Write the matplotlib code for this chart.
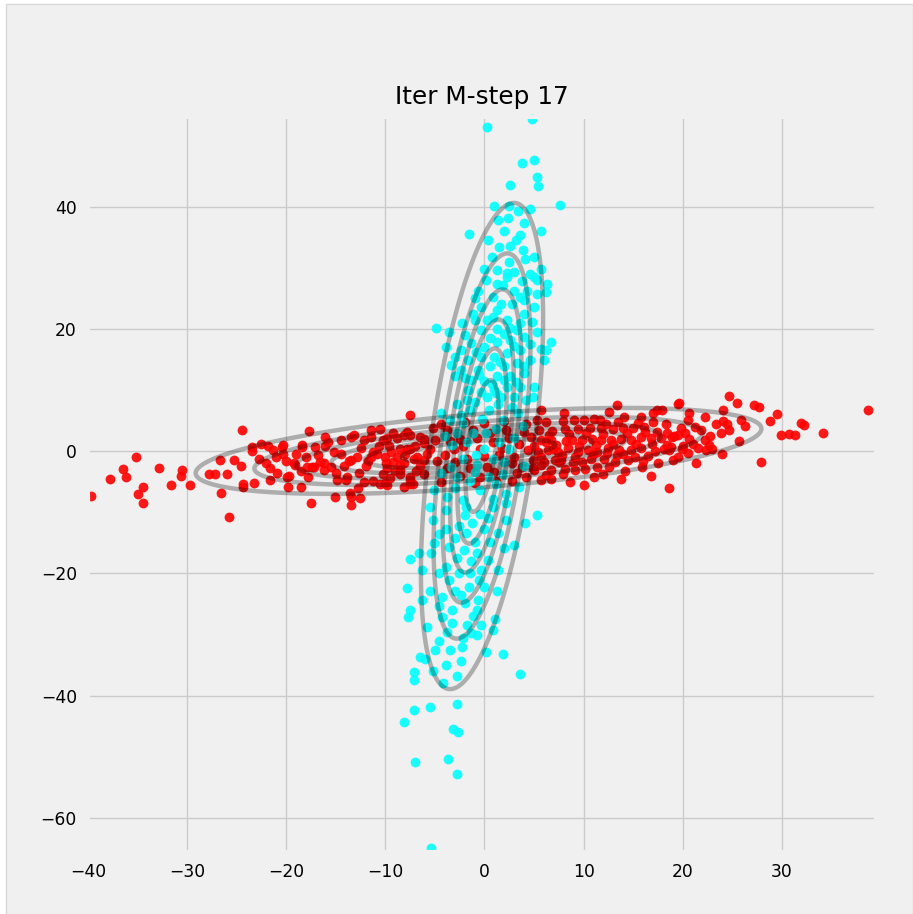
import numpy as np
import matplotlib
matplotlib.use("Agg")
import matplotlib.pyplot as plt
from matplotlib.patches import Rectangle

# cluster assignments after the 17th M-step
red_points = [
    (-39.7, -7.4), (-37.8, -4.5), (-36.5, -2.9), (-36.2, -4.3), (-35.2, -1.0), (-34.5, -5.9),
    (-35.0, -7.0), (-34.5, -8.5), (-32.8, -2.7), (-31.6, -5.6), (-30.5, -3.1), (-30.6, -4.0),
    (-29.7, -5.6), (-27.8, -3.8), (-27.2, -3.8), (-26.0, -3.8), (-26.6, -6.9), (-25.8, -10.8),
    (-26.7, -1.5), (-24.5, 3.4), (-25.3, -1.4), (-24.6, -2.5), (-24.4, -5.3), (-24.4, -5.9),
    (-23.3, -5.2), (-23.5, 0.7), (-23.5, 0.1), (-22.5, 1.1), (-21.8, 0.8), (-21.3, 0.2),
    (-22.8, -1.3), (-21.6, -2.7), (-21.6, -4.7), (-20.4, 0.7), (-19.9, -4.2), (-19.8, -5.8),
    (-20.0, -1.6), (-18.4, 0.7), (-17.7, 3.3), (-18.5, -5.8), (-17.5, -8.5), (-17.1, 0.7),
    (-16.1, 2.3), (-17.4, -2.6), (-17.8, -4.2), (-18.5, -3.2), (-19.2, -2.0), (-16.2, -2.0),
    (-15.2, -0.1), (-15.1, -7.5), (-13.5, -7.5), (-13.5, -8.8), (-12.6, -7.6), (-12.7, -3.6),
    (-14.0, -4.7), (-13.7, -1.6), (-14.5, 1.8), (-13.2, 2.6), (-12.2, 1.8), (-11.5, 2.4),
    (-11.2, -0.2), (-11.2, -4.8), (-7.5, 6.0), (-13.6, -6.8), (-20.3, 1.0), (-20.3, -0.4),
    (-18.4, 1.0), (-16.1, 0.8), (-13.5, 2.3), (-14.5, -0.4), (-13.5, -1.5), (-12.9, -1.0),
    (-11.5, 3.4), (-10.5, 3.7), (-10.2, 1.8), (-8.8, 2.1), (-7.8, 3.2), (-7.5, 2.6),
    (-6.5, 2.3), (-11.5, -0.9), (-10.8, -0.4), (-9.9, -1.9), (-8.8, -0.9), (-8.1, -1.9),
    (-7.5, 0.3), (-6.8, -0.9), (-6.1, 1.3), (-17.2, -2.6), (-16.6, -1.8), (-16.2, -3.1),
    (-15.5, -2.6), (-17.9, -2.6), (-19.1, -2.3), (-19.7, -4.0), (-20.9, -3.5), (-14.9, -4.7),
    (-13.9, -4.2), (-12.2, -5.0), (-10.2, -3.7), (-9.5, -4.4), (-8.5, -3.1), (-7.5, -4.7),
    (-8.1, -5.8), (-10.0, -5.2), (-7.2, -5.4), (-6.1, -3.8), (-9.8, 2.1), (-9.2, 2.9),
    (-8.1, 2.7), (-8.5, 0.4), (-9.4, -0.2), (-7.8, 0.4), (-7.1, -1.2), (-8.5, -2.2),
    (-9.2, -1.7), (-9.8, -2.8), (-8.5, -3.8), (-7.5, -4.3), (-6.9, -3.2), (-6.1, -1.5),
    (-5.5, 0.4), (-6.1, 2.0), (-4.4, 4.5), (-3.8, 3.4), (-3.1, 0.4), (-2.5, 2.0),
    (-1.8, -1.3), (-1.2, 3.4), (-0.5, 0.4), (0.3, -2.6), (0.9, 1.5), (1.5, -0.6),
    (2.2, 3.4), (2.8, -2.0), (3.5, 1.1), (4.2, 4.5), (5.3, 5.1), (5.7, 6.7),
    (6.2, 1.5), (6.9, 0.4), (7.9, 4.9), (8.2, 1.6), (7.5, -1.7), (4.9, -2.8),
    (6.2, -3.9), (4.2, -4.3), (-2.5, -4.0), (-3.8, -2.8), (-4.4, -5.0), (-0.5, -4.3),
    (1.2, -4.8), (2.8, -4.8), (-10.5, -5.3), (-9.8, -5.6), (-7.5, -5.3), (8.0, 6.2),
    (13.4, 7.5), (12.6, 6.4), (19.5, 7.8), (17.4, 6.7), (17.9, 6.7), (15.8, 5.6),
    (14.1, 5.6), (11.7, 5.1), (11.0, 5.3), (10.0, 5.1), (9.0, 5.1), (6.2, 4.7),
    (16.1, 4.0), (15.0, 3.8), (14.0, 3.8), (13.0, 3.6), (11.8, 3.8), (10.6, 3.8),
    (9.4, 3.6), (8.1, 3.6), (6.8, 3.3), (17.4, 3.2), (18.4, 3.0), (19.1, 2.5),
    (18.8, 0.7), (18.1, 0.4), (16.8, 2.1), (15.8, 2.3), (14.8, 1.8), (13.8, 2.0),
    (12.8, 1.8), (11.8, 1.8), (10.8, 2.0), (9.8, 1.8), (8.8, 1.8), (6.7, 1.8),
    (5.7, 1.8), (4.7, 2.3), (15.8, 0.5), (14.8, 0.2), (13.6, 0.2), (12.5, 0.5),
    (11.4, -0.1), (10.4, 0.2), (9.4, -0.1), (8.4, 0.5), (7.4, -0.1), (6.4, 0.2),
    (5.4, -0.1), (4.4, 0.2), (13.4, -0.7), (12.1, -1.2), (10.7, -1.2), (9.1, -0.9),
    (7.7, -1.4), (7.1, -1.4), (5.7, -0.9), (4.9, -1.4), (12.6, -2.6), (11.4, -2.6),
    (9.8, -1.8), (10.1, -2.9), (9.1, -3.1), (8.1, -2.9), (6.7, -3.1), (5.7, -2.3),
    (5.0, -3.1), (6.7, -4.5), (5.7, -4.7), (7.9, -3.7), (15.9, -2.6), (10.0, -5.6),
    (18.6, -6.1), (24.7, 9.0), (25.5, 7.9), (27.2, 7.5), (27.7, 7.3), (29.5, 6.1),
    (28.8, 5.0), (31.9, 4.6), (32.2, 4.3), (38.7, 6.7), (29.9, 2.6), (30.7, 2.8),
    (31.3, 2.6), (34.2, 3.0), (27.9, -1.7), (25.7, 1.7), (24.7, 3.4), (24.1, 6.7),
    (24.1, 5.0), (24.5, 4.5), (25.9, 5.1), (26.3, 4.2), (23.9, 2.9), (24.0, -0.5),
    (21.3, -1.9), (23.0, 0.4), (22.3, 0.2), (22.6, 1.0), (22.2, 1.8), (21.8, 3.4),
    (22.2, 5.6), (19.6, 7.9), (20.6, 6.2), (20.5, 5.1), (21.2, 4.0), (19.8, 3.8),
    (19.5, 2.6), (18.9, 2.3), (20.6, 2.0), (21.0, 1.2), (18.6, 0.2), (19.9, 0.4),
    (18.4, 1.0), (17.0, 6.2), (14.5, -1.5), (16.5, -0.8), (17.5, -1.9), (15.2, -1.0),
    (19.5, -0.9), (20.5, -0.3), (16.9, 1.2), (14.2, -3.3), (12.0, -3.8), (17.0, 4.8),
    (15.5, 4.6), (13.5, 4.7), (12.3, 4.4), (20.0, 0.9),
    (-22.0, -2.0), (-21.0, -1.0), (-19.0, -0.5), (-18.0, -1.0), (-16.8, -0.7), (-15.8, 1.5),
    (-15.0, -3.5), (-14.2, -2.4), (-12.5, 0.5), (-12.0, -2.5), (-11.8, -1.6), (-10.6, 0.8),
    (-10.0, -1.0), (-9.6, 0.9), (-9.0, -3.2), (-8.0, -0.5), (-7.0, 0.8), (-6.5, -2.4),
    (-5.8, -0.4), (-5.0, 1.8), (-4.8, -1.6), (-4.0, -0.6), (-3.5, 1.6), (-3.0, -1.8),
    (-2.2, 0.8), (-1.5, -2.8), (-0.8, 2.2), (0.0, -0.8), (0.6, 3.0), (1.0, -3.4),
    (1.8, 0.6), (2.5, 2.2), (3.0, -1.0), (3.8, -2.6), (4.0, 3.2), (5.0, 0.9),
    (5.5, 3.5), (6.0, -1.8), (6.5, 2.6), (7.2, 1.0), (7.8, -0.6), (8.5, 2.8),
    (8.9, -2.0), (9.5, 0.9), (10.2, 2.9), (10.9, -0.5), (11.2, 1.0), (12.0, 2.8),
    (12.4, -0.3), (13.0, 1.1), (13.2, -1.8), (14.4, 2.9), (14.0, -0.4), (15.3, 1.2),
    (16.2, 3.2), (16.0, -1.6), (17.2, 0.1), (17.8, 2.2), (18.3, 4.5), (19.0, -1.5),
    (20.2, 3.0), (21.5, 0.5), (22.8, 2.5), (23.4, 4.4), (2.0, 5.0), (0.0, 4.6),
    (-2.0, 4.8), (-5.2, 3.8), (3.3, -3.6), (-1.0, -5.2), (11.0, -4.2), (13.8, -4.5),
    (8.6, -5.0), (-12.8, -6.0), (16.8, -4.0),
]

cyan_points = [
    (0.3, 53.1), (4.8, 54.3), (3.8, 47.2), (5.0, 47.7), (5.3, 44.9), (5.4, 43.4),
    (2.6, 43.5), (1.0, 40.1), (2.5, 40.1), (4.6, 39.7), (7.6, 40.3), (3.4, 39.3),
    (2.4, 38.2), (4.0, 37.3), (-1.6, 35.6), (5.7, 36.1), (1.4, 37.8), (3.6, 35.4),
    (3.2, 34.6), (1.5, 33.4), (2.6, 33.6), (3.9, 33.0), (5.0, 31.8), (0.4, 34.5),
    (4.1, 31.5), (5.7, 29.9), (6.3, 27.4), (6.2, 26.1), (5.3, 28.0), (4.6, 29.0),
    (3.0, 29.3), (2.3, 29.1), (1.3, 27.4), (-0.1, 29.9), (0.2, 28.0), (-0.7, 26.3),
    (0.9, 25.2), (1.9, 27.2), (3.6, 25.3), (4.3, 26.3), (5.0, 23.6), (4.0, 22.5),
    (2.8, 24.1), (1.7, 24.1), (-0.4, 23.6), (-1.2, 22.5), (-2.3, 21.0), (-4.9, 20.2),
    (-3.6, 19.5), (0.9, 22.0), (2.3, 21.5), (3.3, 19.9), (4.8, 21.2), (6.7, 17.9),
    (1.3, 29.6), (2.3, 28.5), (3.0, 26.3), (5.0, 28.5), (5.3, 25.8), (4.0, 24.7),
    (1.3, 23.1), (0.3, 21.4), (-0.4, 19.8), (1.3, 20.0), (2.6, 20.2), (3.6, 21.0),
    (4.0, 18.7), (2.6, 18.2), (1.3, 17.9), (0.0, 17.1), (-1.4, 17.7), (-2.4, 16.5),
    (-3.0, 15.4), (-1.7, 14.9), (-0.4, 15.4), (1.0, 15.4), (2.3, 16.0), (3.6, 16.5),
    (4.6, 17.6), (5.7, 16.8), (6.2, 16.5), (6.0, 14.9), (4.6, 14.9), (3.3, 14.4),
    (2.0, 13.9), (0.6, 13.9), (-0.7, 13.3), (-2.4, 13.3), (-3.4, 14.1), (-3.0, 12.3),
    (-1.4, 11.7), (0.0, 11.5), (1.3, 12.3), (2.6, 12.3), (4.0, 12.8), (5.0, 10.5),
    (3.6, 10.5), (2.3, 10.5), (1.0, 10.0), (-0.4, 9.7), (-1.7, 10.0), (0.3, 8.9),
    (1.7, 8.9), (3.0, 8.9), (-4.4, 6.2), (-2.8, 7.8), (-1.8, 8.4), (1.2, 9.5),
    (4.2, 8.4), (4.9, 8.9), (2.8, 7.3), (0.5, 6.7), (-1.5, 6.7), (-3.5, 5.1),
    (-2.2, 4.6), (1.9, 5.1), (-5.1, -6.4), (-3.8, -7.5), (-2.2, -8.0), (-0.5, -6.4),
    (0.9, -7.8), (2.2, -7.0), (3.5, -5.9), (-1.5, -4.8), (-2.8, -4.3), (0.5, -4.3),
    (1.9, -3.8), (-0.8, -2.2), (-2.2, -1.2), (0.9, -1.2), (-0.1, 0.4), (-1.8, 1.5),
    (1.5, 1.5), (-2.8, 3.0), (0.2, 3.0), (2.5, 0.4), (5.3, -10.5), (4.1, -11.7),
    (3.0, -15.4), (2.0, -15.9), (1.4, -19.5), (1.3, -22.8), (1.1, -27.4), (0.9, -29.3),
    (1.9, -33.2), (3.6, -36.5), (-7.5, -17.6), (-6.6, -16.6), (-6.3, -19.4), (-5.5, -22.8),
    (-6.3, -24.3), (-7.5, -26.0), (-7.7, -27.2), (-6.5, -33.7), (-6.0, -34.0), (-7.1, -36.1),
    (-7.1, -37.5), (-5.2, -35.9), (-3.9, -35.0), (-5.0, -32.6), (-4.6, -31.0), (-3.5, -32.6),
    (-2.3, -32.1), (-2.4, -34.3), (-2.2, -30.5), (-1.4, -29.7), (-0.8, -30.0), (-0.4, -28.4),
    (-1.8, -28.4), (-3.3, -28.1), (-4.3, -27.1), (-3.3, -26.0), (-4.6, -25.4), (-2.0, -24.9),
    (-0.8, -26.0), (-0.7, -24.3), (-0.1, -22.2), (-1.6, -22.2), (-3.0, -22.8), (-4.3, -23.9),
    (-3.6, -21.1), (-2.6, -20.0), (-1.5, -20.0), (-0.4, -19.4), (0.4, -17.8), (-0.8, -16.7),
    (-2.1, -16.1), (-3.6, -15.6), (-5.1, -15.0), (-5.4, -16.7), (-3.9, -18.9), (0.6, -14.8),
    (1.4, -13.4), (0.0, -12.8), (-1.3, -11.7), (-2.6, -12.3), (-3.9, -12.8), (-5.2, -11.2),
    (-5.5, -9.1), (-3.9, -9.6), (-1.9, -9.1), (-0.5, -10.2), (0.9, -9.1), (2.2, -8.5),
    (2.2, -11.2), (-1.9, -13.4), (-2.8, -41.3), (-7.1, -42.4), (-5.5, -41.8), (-8.1, -44.4),
    (-3.2, -45.4), (-2.7, -45.9), (-7.0, -50.8), (-3.7, -50.4), (-2.8, -52.8), (-5.4, -64.9),
    (-7.8, -22.4),
    (-1.0, 25.0), (2.5, 31.0), (-2.0, 19.0), (-1.0, 21.5), (0.6, 18.6), (2.0, 19.2),
    (3.0, 17.2), (-0.9, 16.3), (1.6, 14.6), (-2.0, 12.0), (-0.6, 12.5), (0.8, 11.0),
    (2.0, 11.6), (3.2, 11.4), (-1.0, 8.0), (1.4, 7.8), (-2.4, 6.0), (3.4, 6.2),
    (-0.3, 5.2), (-1.2, 3.0), (1.2, 3.6), (3.0, 2.2), (-3.3, 1.0), (-0.9, -0.6),
    (2.0, -1.8), (-3.4, -2.6), (-1.0, -3.4), (1.2, -5.4), (-3.0, -6.0), (-2.0, -10.4),
    (0.4, -11.0), (-4.6, -13.6), (-3.0, -14.2), (-1.0, -14.8), (-2.8, -17.5), (-1.4, -18.0),
    (-4.6, -20.0), (-0.6, -21.0), (-2.4, -23.5), (-1.2, -27.0), (-3.8, -29.6), (-5.8, -28.8),
    (-2.8, -36.8), (-4.2, -38.0), (0.2, -32.8), (4.0, 14.0), (5.3, 19.5), (-3.9, 17.0),
    (3.8, 27.8), (0.8, 31.8), (2.0, 36.0), (-4.4, -3.5), (-4.0, 2.5), (4.0, -2.5),
    (3.9, 4.2),
]

# current Gaussian parameters
red_mean = [-0.6, 0.05]
red_cov = [[184.5, 23.5], [23.5, 11.2]]
cyan_mean = [-0.25, 0.85]
cyan_cov = [[8.6, 29.0], [29.0, 358.6]]

# contour heights as fractions of each component's peak density
level_fractions = [0.11, 0.25, 0.40, 0.55, 0.70, 0.85]

x_limits = (-40.0, 39.5)
y_limits = (-65.6, 54.7)


def gaussian_pdf(xx, yy, mean, cov):
    mean = np.asarray(mean, dtype=float)
    cov = np.asarray(cov, dtype=float)
    inv = np.linalg.inv(cov)
    dx = xx - mean[0]
    dy = yy - mean[1]
    m = inv[0, 0] * dx * dx + 2 * inv[0, 1] * dx * dy + inv[1, 1] * dy * dy
    norm = 1.0 / (2 * np.pi * np.sqrt(np.linalg.det(cov)))
    return norm * np.exp(-0.5 * m), norm


plt.style.use("fivethirtyeight")

fig = plt.figure(figsize=(9.13, 9.14), dpi=100, facecolor="white")
# grey canvas with a thin frame, inset slightly from the left/top edge
fig.patches.append(Rectangle((0.007, 0.0), 0.993, 0.996, transform=fig.transFigure,
                             facecolor="#f0f0f0", edgecolor="#d8d8d8",
                             linewidth=1.0, zorder=-10))
ax = fig.add_axes([0.0964, 0.0678, 0.8631, 0.8042])

red = np.array(red_points)
cyan = np.array(cyan_points)
ax.scatter(red[:, 0], red[:, 1], s=50, color="red", alpha=0.9, linewidths=0,
           zorder=2, clip_on=False)
ax.scatter(cyan[:, 0], cyan[:, 1], s=50, color="cyan", alpha=0.9, linewidths=0,
           zorder=2, clip_on=False)

gx = np.linspace(x_limits[0], x_limits[1], 400)
gy = np.linspace(y_limits[0], y_limits[1], 600)
xx, yy = np.meshgrid(gx, gy)
for mean, cov in [(red_mean, red_cov), (cyan_mean, cyan_cov)]:
    density, peak = gaussian_pdf(xx, yy, mean, cov)
    levels = [peak * f for f in level_fractions]
    ax.contour(xx, yy, density, levels=levels, colors="black",
               alpha=0.28, linewidths=3.2, zorder=3)

ax.set_xlim(*x_limits)
ax.set_ylim(*y_limits)
ax.set_xticks(np.arange(-40, 31, 10))
ax.set_yticks(np.arange(-60, 41, 20))
ax.tick_params(labelsize=12.3, pad=8, length=0)
ax.grid(True, color="#cbcbcb", linewidth=1.0)
ax.set_title("Iter M-step 17", fontsize=17.8, pad=9)

fig.savefig("out.png", dpi=100, facecolor=fig.get_facecolor())
